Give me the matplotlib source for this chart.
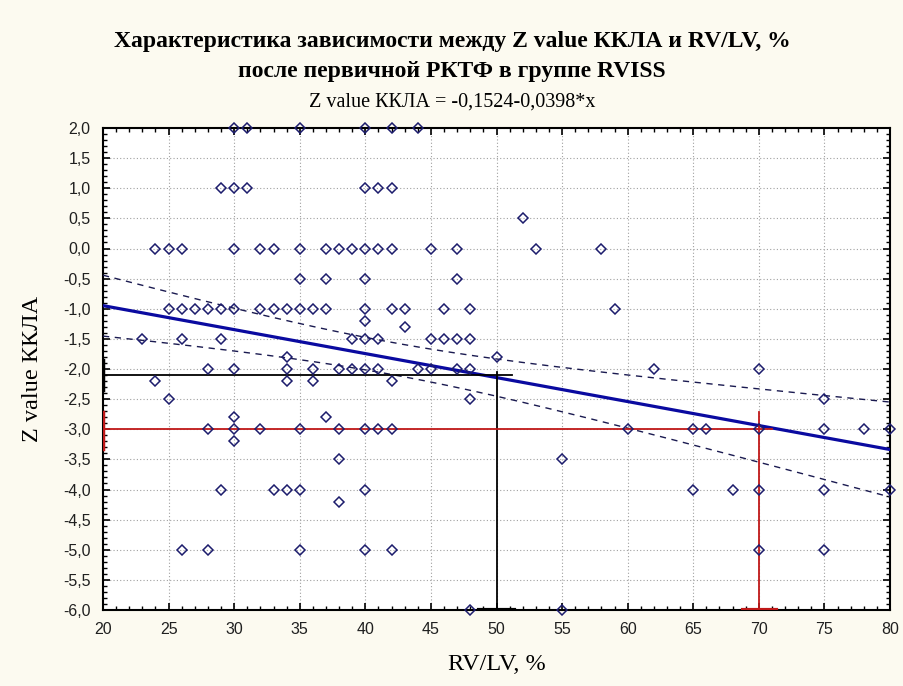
import numpy as np
import matplotlib.pyplot as plt
from matplotlib.ticker import MultipleLocator, FuncFormatter

# Коэффициенты регрессии (из подзаголовка)
intercept = -0.1524
slope = -0.0398

# Точки: RV/LV, % и Z value ККЛА
rv_lv = [30, 31, 35, 40, 42, 44,
         29, 30, 31, 40, 41, 42,
         52,
         24, 25, 26, 30, 32, 33, 35, 37, 38, 39, 40, 41, 42, 45, 47, 53, 58,
         35, 37, 40, 47,
         25, 26, 27, 28, 29, 30, 32, 33, 34, 35, 36, 37, 40, 42, 43, 46, 48, 59,
         40, 43,
         23, 26, 29, 39, 40, 41, 45, 46, 47, 48,
         34, 50,
         28, 30, 34, 36, 38, 39, 40, 41, 44, 45, 47, 48, 62, 70,
         24, 34, 36, 42,
         25, 48, 75,
         30, 37,
         28, 30, 32, 35, 38, 40, 41, 42, 60, 65, 66, 70, 75, 78, 80,
         30,
         38, 55,
         29, 33, 34, 35, 40, 65, 68, 70, 75, 80,
         38,
         26, 28, 35, 40, 42, 70, 75,
         48, 55]
z_value = [2.0] * 6 + [1.0] * 6 + [0.5] + [0.0] * 17 + [-0.5] * 4 + [-1.0] * 18 \
    + [-1.2, -1.3] + [-1.5] * 10 + [-1.8] * 2 + [-2.0] * 14 + [-2.2] * 4 \
    + [-2.5] * 3 + [-2.8] * 2 + [-3.0] * 15 + [-3.2] + [-3.5] * 2 + [-4.0] * 10 \
    + [-4.2] + [-5.0] * 7 + [-6.0] * 2

# Опорные линии (чёрная и красная)
black_x, black_y = 50, -2.1
red_x, red_y = 70, -3.0

x = np.array(rv_lv, dtype=float)
y = np.array(z_value, dtype=float)

# Доверительный интервал для линии регрессии
# (часть точек на картинке совпадает, поэтому множитель подобран по ширине полосы)
n = len(x)
xs = np.linspace(20, 80, 200)
fit = intercept + slope * xs
resid = y - (intercept + slope * x)
s = np.sqrt(np.sum(resid ** 2) / (n - 2))
sxx = np.sum((x - x.mean()) ** 2)
half = 1.75 * s * np.sqrt(1.0 / n + (xs - x.mean()) ** 2 / sxx)

fig = plt.figure(figsize=(9.04, 6.86), dpi=100, facecolor='#fcfaf0')
ax = fig.add_axes([103 / 904, 1 - 610 / 686, 787 / 904, 482 / 686])
ax.set_facecolor('white')

ax.grid(True, which='major', color='#a0a0a0', linestyle=(0, (1, 2)), linewidth=0.8)

ax.plot(xs, fit, color='#0a0aa0', linewidth=2.3, zorder=4)
ax.plot(xs, fit + half, color='#1a1a50', linewidth=1.0, linestyle=(0, (4.5, 4)), zorder=4)
ax.plot(xs, fit - half, color='#1a1a50', linewidth=1.0, linestyle=(0, (4.5, 4)), zorder=4)

# чёрные линии
ax.plot([20, black_x + 1.2], [black_y, black_y], color='black', linewidth=1.3, zorder=5)
ax.plot([black_x, black_x], [-6, black_y + 0.05], color='black', linewidth=1.3, zorder=5)
ax.plot([20, 20], [black_y + 0.25, black_y - 0.25], color='black', linewidth=2.5, zorder=5)
ax.plot([black_x - 1.3, black_x + 1.3], [-6, -6], color='black', linewidth=3, zorder=5)

# красные линии
ax.plot([20, red_x + 1], [red_y, red_y], color='#c01818', linewidth=1.3, zorder=5)
ax.plot([red_x, red_x], [-6, red_y + 0.28], color='#c01818', linewidth=1.3, zorder=5)
ax.plot([20, 20], [red_y + 0.28, red_y - 0.33], color='#c01818', linewidth=2.5, zorder=5)
ax.plot([red_x - 1.2, red_x + 1.3], [-6, -6], color='#c01818', linewidth=3, zorder=5)

ax.plot(x, y, linestyle='none', marker='D', markersize=5.3, markerfacecolor='none',
        markeredgecolor='#1c1c6c', markeredgewidth=1.1, zorder=6, clip_on=False)

ax.set_xlim(20, 80)
ax.set_ylim(-6, 2)
ax.xaxis.set_major_locator(MultipleLocator(5))
ax.xaxis.set_minor_locator(MultipleLocator(1))
ax.yaxis.set_major_locator(MultipleLocator(0.5))
ax.yaxis.set_minor_locator(MultipleLocator(0.1))
ax.yaxis.set_major_formatter(FuncFormatter(lambda v, p: f'{v:.1f}'.replace('.', ',')))

ax.tick_params(which='both', direction='in', top=True, right=True, colors='black',
               labelcolor='#202020', labelsize=11.5)
ax.tick_params(which='major', length=5, width=1.2)
ax.tick_params(which='minor', length=3, width=1)
ax.tick_params(axis='x', which='major', pad=9)
ax.tick_params(axis='y', which='major', pad=9)
for lab in ax.get_xticklabels() + ax.get_yticklabels():
    lab.set_fontfamily('Liberation Sans')
for sp in ax.spines.values():
    sp.set_linewidth(1.5)

ax.set_xlabel('RV/LV, %', fontsize=17.5, family='Liberation Serif', va='center')
ax.xaxis.set_label_coords(0.5, -(665 - 610) / 482)
ax.set_ylabel('Z value ККЛА', fontsize=17.5, family='Liberation Serif', va='center')
ax.yaxis.set_label_coords(-(103 - 33) / 787, 0.5)

fig.text(0.5, 1 - 42 / 686, 'Характеристика зависимости между Z value ККЛА и RV/LV, %',
         ha='center', va='center', fontsize=17, fontweight='bold', family='Liberation Serif')
fig.text(0.5, 1 - 72 / 686, 'после первичной РКТФ в группе RVISS',
         ha='center', va='center', fontsize=17, fontweight='bold', family='Liberation Serif')
fig.text(0.5, 1 - 102 / 686, 'Z value ККЛА = -0,1524-0,0398*x',
         ha='center', va='center', fontsize=14.5, family='Liberation Serif')

fig.savefig('out.png', dpi=100, facecolor=fig.get_facecolor())
